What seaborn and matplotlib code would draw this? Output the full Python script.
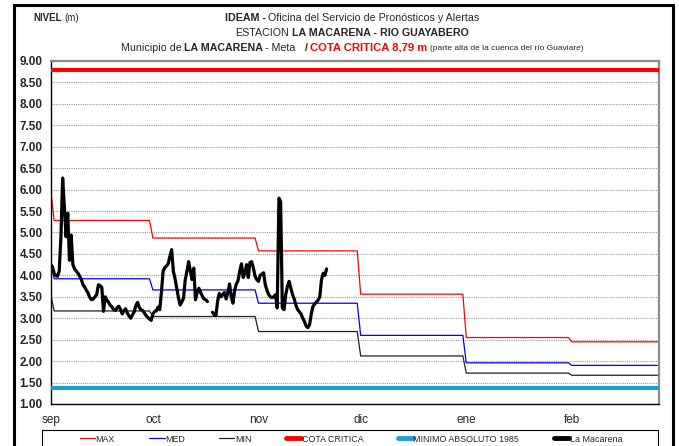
import numpy as np
import pandas as pd
import matplotlib
matplotlib.use("Agg")
import matplotlib.pyplot as plt
import seaborn as sns
from matplotlib.lines import Line2D
from matplotlib.patches import Rectangle

# Nivel del rio Guayabero - estacion La Macarena (lecturas cada 12 h desde el 1 de septiembre)
inicio = "2013-09-01"
nivel_macarena = [
    4.25, 4.20, 4.05, 3.99, 3.98, 4.10, 4.90, 6.27, 5.60, 4.90,
    5.45, 4.35, 4.94, 4.25, 4.15, 4.10, 4.05, 3.98, 3.90, 3.78,
    3.72, 3.65, 3.58, 3.48, 3.43, 3.45, 3.50, 3.55, 3.78, 3.76,
    3.72, 3.16, 3.50, 3.42, 3.37, 3.30, 3.26, 3.20, 3.18, 3.25,
    3.28, 3.20, 3.10, 3.18, 3.22, 3.12, 3.05, 3.00, 3.08, 3.15,
    3.30, 3.37, 3.25, 3.20, 3.18, 3.12, 3.06, 3.02, 2.98, 2.95,
    3.10, 3.16, 3.17, 3.26, 3.20, 3.60, 4.10, 4.18, 4.22, 4.27,
    4.45, 4.60, 4.10, 3.92, 3.70, 3.48, 3.31, 3.38, 3.47, 3.90,
    4.10, 4.32, 4.10, 3.90, 4.17, 3.43, 3.60, 3.70, 3.60, 3.52,
    3.45, 3.43, 3.39, np.nan, np.nan, 3.14, 3.08, 3.06, 3.40, 3.58,
    3.50, 3.55, 3.60, 3.45, 3.60, 3.80, 3.50, 3.35, 3.65, 3.80,
    3.88, 4.10, 4.27, 3.95, 4.05, 4.25, 3.95, 4.30, 4.32, 4.17,
    3.98, 3.90, 3.86, 4.00, 4.03, 4.06, 3.78, 3.65, 3.55, 3.50,
    3.48, 3.50, 3.55, 3.24, 5.80, 5.72, 3.24, 3.20, 3.55, 3.75,
    3.86, 3.70, 3.55, 3.45, 3.30, 3.20, 3.15, 3.10, 3.00, 2.92,
    2.82, 2.78, 2.85, 3.10, 3.28, 3.33, 3.38, 3.42, 3.50, 3.90,
    4.05, 4.00, 4.15,
]

# Niveles historicos mensuales (sep..feb) y valor del primer dia
meses = ["sep", "oct", "nov", "dic", "ene", "feb"]
dias_mes = [30, 31, 30, 31, 31, 28]
nivel_max = [5.28, 4.87, 4.57, 3.56, 2.55, 2.45]
nivel_med = [3.92, 3.66, 3.35, 2.60, 1.96, 1.90]
nivel_min = [3.17, 3.04, 2.69, 2.12, 1.72, 1.67]
primer_dia = {"MAX": 6.00, "MED": 4.35, "MIN": 3.55}
cota_critica = 8.79
minimo_absoluto = 1.37

# ---- armar tablas ----
fechas = pd.date_range(inicio, periods=sum(dias_mes), freq="D")
ref = pd.DataFrame({"fecha": fechas})
for nombre, vals in [("MAX", nivel_max), ("MED", nivel_med), ("MIN", nivel_min)]:
    serie = np.repeat(vals, dias_mes).astype(float)
    serie[0] = primer_dia[nombre]
    ref[nombre] = serie

obs = pd.DataFrame({
    "fecha": pd.date_range(inicio, periods=len(nivel_macarena), freq="12h"),
    "nivel": nivel_macarena,
})
obs["tramo"] = obs["nivel"].isna().cumsum()
obs = obs.dropna()

# ---- estilo ----
sns.set_style("white")
plt.rcParams["font.family"] = ["Liberation Sans", "DejaVu Sans"]

fig = plt.figure(figsize=(6.79, 4.46), dpi=100)
ax = fig.add_axes([0.0747, 0.0942, 0.8959, 0.7691])

x_ini = pd.Timestamp(inicio)
x_fin = x_ini + pd.Timedelta(days=178.6)

ax.axhline(cota_critica, color="#ff0000", lw=3.0, zorder=3)
ax.axhline(minimo_absoluto, color="#1aa0d2", lw=3.0, zorder=3)
sns.lineplot(data=ref, x="fecha", y="MAX", color="#ff0000", lw=0.9, ax=ax)
sns.lineplot(data=ref, x="fecha", y="MED", color="#0000ff", lw=0.9, ax=ax)
sns.lineplot(data=ref, x="fecha", y="MIN", color="#222222", lw=0.9, ax=ax)
sns.lineplot(data=obs, x="fecha", y="nivel", units="tramo", estimator=None,
             color="black", lw=2.3, ax=ax, zorder=4)

ax.set_xlim(x_ini, x_fin)
ax.set_ylim(1.0, 9.0)
ax.set_yticks(np.arange(1.0, 9.01, 0.5))
ax.set_yticklabels([f"{v:.2f}" for v in np.arange(1.0, 9.01, 0.5)],
                   fontsize=8.5, fontweight="bold")
inicios_mes = [x_ini + pd.Timedelta(days=int(d)) for d in np.cumsum([0] + dias_mes[:-1])]
ax.set_xticks(inicios_mes)
ax.set_xticklabels(meses, fontsize=8.5)
ax.tick_params(axis="both", direction="out", length=4, width=1, color="black", pad=2)
ax.tick_params(axis="x", pad=3)
ax.set_xlabel("")
ax.set_ylabel("")
ax.grid(axis="y", color="#9a9a9a", ls=(0, (1, 1)), lw=0.8)
ax.grid(axis="x", visible=False)
for lado in ["left", "bottom"]:
    ax.spines[lado].set_color("black")
    ax.spines[lado].set_linewidth(1.0)
for lado in ["top", "right"]:
    ax.spines[lado].set_color("#8c8c8c")
    ax.spines[lado].set_linewidth(1.6)

# ---- leyenda ----
manijas = [
    Line2D([], [], color="#ff0000", lw=0.9),
    Line2D([], [], color="#0000ff", lw=0.9),
    Line2D([], [], color="#222222", lw=0.9),
    Line2D([], [], color="#ff0000", lw=3.5),
    Line2D([], [], color="#1aa0d2", lw=3.5),
    Line2D([], [], color="black", lw=3.5),
]
etiquetas = ["MAX", "MED", "MIN", "COTA CRITICA", "MINIMO ABSOLUTO 1985", "La Macarena"]
leg = fig.legend(manijas, etiquetas, loc="center", bbox_to_anchor=(351 / 679, 1 - 439 / 446),
                 ncol=6, frameon=False, fontsize=6.4, handlelength=1.7,
                 handletextpad=0.05, borderaxespad=0, borderpad=0, columnspacing=3.9)
fig.add_artist(Rectangle((42 / 679, -0.05), (658 - 42) / 679, 0.05 + 1 - 430 / 446,
                         transform=fig.transFigure, fill=False,
                         edgecolor="black", lw=0.8, clip_on=False))

# ---- marco exterior ----
fig.add_artist(Rectangle((14 / 679, -0.05), (673 - 14) / 679, 1 - 5 / 446 + 0.05,
                         transform=fig.transFigure, fill=False,
                         edgecolor="black", lw=2.2, clip_on=False))

# ---- titulos con formato mixto ----
renderer = fig.canvas.get_renderer()
espacio = 2.6 / 679


def texto_mixto(y, partes, x=352 / 679, alinear="center"):
    objs = []
    total = 0.0
    for texto, kw in partes:
        t = fig.text(0, y, texto, va="center", ha="left", **kw)
        w = t.get_window_extent(renderer).width / fig.bbox.width
        objs.append((t, w))
        total += w
    total += espacio * (len(partes) - 1)
    x0 = x - total / 2 if alinear == "center" else x
    for t, w in objs:
        t.set_x(x0)
        x0 += w + espacio


normal = dict(fontsize=7.7)
negrita = dict(fontsize=7.7, fontweight="bold")
texto_mixto(1 - 18 / 446, [("IDEAM -", negrita),
                           ("Oficina del Servicio de Pronósticos y Alertas", normal)])
texto_mixto(1 - 33 / 446, [("ESTACION", normal),
                           ("LA MACARENA - RIO GUAYABERO", negrita)])
texto_mixto(1 - 48 / 446, [("Municipio de", normal),
                           ("LA MACARENA", negrita),
                           ("- Meta  ", normal),
                           ("/", negrita),
                           ("COTA CRITICA 8,79 m", dict(fontsize=8.1, fontweight="bold", color="#ff0000")),
                           ("(parte alta de la cuenca del río Guaviare)", dict(fontsize=6.0))])
texto_mixto(1 - 18 / 446, [("NIVEL", dict(fontsize=7, fontweight="bold")),
                           ("(m)", dict(fontsize=7))], x=33 / 679, alinear="left")

fig.savefig("out.png", dpi=100)
